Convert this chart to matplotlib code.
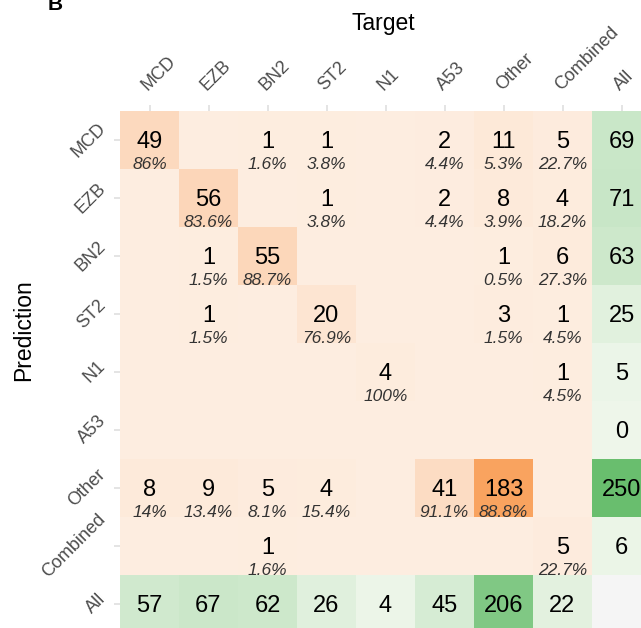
import numpy as np
import matplotlib
matplotlib.use("Agg")
import matplotlib.pyplot as plt
from matplotlib.colors import LinearSegmentedColormap
from matplotlib.patches import Rectangle
from matplotlib.transforms import ScaledTranslation

plt.rcParams['font.family'] = ['Liberation Sans', 'DejaVu Sans']

# ---- data ----
classes = ["MCD", "EZB", "BN2", "ST2", "N1", "A53", "Other", "Combined"]
margin_label = "All"
row_mcd = [49, 0, 1, 1, 0, 2, 11, 5]
row_ezb = [0, 56, 0, 1, 0, 2, 8, 4]
row_bn2 = [0, 1, 55, 0, 0, 0, 1, 6]
row_st2 = [0, 1, 0, 20, 0, 0, 3, 1]
row_n1 = [0, 0, 0, 0, 4, 0, 0, 1]
row_a53 = [0, 0, 0, 0, 0, 0, 0, 0]
row_other = [8, 9, 5, 4, 0, 41, 183, 0]
row_combined = [0, 0, 1, 0, 0, 0, 0, 5]
x_title = "Target"
y_title = "Prediction"
panel_tag = "B"

M = np.array([row_mcd, row_ezb, row_bn2, row_st2, row_n1, row_a53,
              row_other, row_combined])
n = len(classes)
row_tot = M.sum(axis=1)
col_tot = M.sum(axis=0)

# ---- figure ----
W, H = 641, 628
fig = plt.figure(figsize=(W / 100, H / 100), dpi=100)
fig.patch.set_facecolor('white')


def fx(px):
    return px / W


def fy(py):
    return 1 - py / H


ax = fig.add_axes([fx(120), fy(633), 531 / W, 522 / H])

orange = LinearSegmentedColormap.from_list('or', ['#FDEDE0', '#F9A35F'])
green = LinearSegmentedColormap.from_list('gr', ['#EEF6EA', '#69BE6E'])

edges = np.arange(n + 2) - 0.5
main = np.ma.masked_all((n + 1, n + 1))
main[:n, :n] = M
marg = np.ma.masked_all((n + 1, n + 1))
marg[:n, n] = row_tot
marg[n, :n] = col_tot

ax.pcolormesh(edges, edges, main, cmap=orange, vmin=0, vmax=M.max(),
              shading='flat', antialiased=False)
ax.pcolormesh(edges, edges, marg, cmap=green, vmin=0,
              vmax=max(row_tot.max(), col_tot.max()),
              shading='flat', antialiased=False)
ax.add_patch(Rectangle((n - 0.5, n - 0.5), 1, 1, facecolor='#F5F5F5',
                       edgecolor='none'))

ax.set_xlim(-0.5, n + 0.5)
ax.set_ylim(n + 0.5, -0.5)

# cell texts
for i in range(n):
    for j in range(n):
        v = M[i, j]
        if v > 0:
            ax.text(j, i + 0.146, str(v), ha='center', va='baseline',
                    fontsize=17, color='black')
            pct = round(100 * v / col_tot[j], 1)
            ax.text(j, i + 0.5, f"{pct:g}%", ha='center', va='baseline',
                    fontsize=12.5, style='italic', color='#333333')
for i in range(n):
    ax.text(n, i + 0.146, str(row_tot[i]), ha='center', va='baseline',
            fontsize=17, color='black')
for j in range(n):
    ax.text(j, n + 0.146, str(col_tot[j]), ha='center', va='baseline',
            fontsize=17, color='black')

# ticks
labels = classes + [margin_label]
ax.set_xticks(range(n + 1))
ax.set_yticks(range(n + 1))
ax.xaxis.set_ticks_position('top')
ax.xaxis.set_label_position('top')
ax.set_xticklabels(labels)
ax.set_yticklabels(labels)
ax.tick_params(axis='both', length=4.3, width=1.1, color='#DCDCDC',
               labelsize=13, labelcolor='#4D4D4D')
ax.tick_params(axis='x', pad=7.9)
ax.tick_params(axis='y', pad=3.6)

off = ScaledTranslation(-11 / 100, 0, fig.dpi_scale_trans)
for lab in ax.get_xticklabels():
    lab.set_rotation(45)
    lab.set_ha('left')
    lab.set_va('bottom')
    lab.set_rotation_mode('default')
    lab.set_transform(lab.get_transform() + off)
for lab in ax.get_yticklabels():
    lab.set_rotation(45)
    lab.set_ha('right')
    lab.set_va('center')
    lab.set_rotation_mode('default')

for s in ax.spines.values():
    s.set_visible(False)

fig.text(fx(383), fy(30), x_title, ha='center', va='baseline',
         fontsize=16.5, color='black')
fig.text(fx(24), fy(330), y_title, ha='center', va='center', rotation=90,
         fontsize=16.5, color='black')
fig.text(fx(48), fy(10), panel_tag, ha='left', va='baseline',
         fontsize=15, fontweight='bold', color='black')

fig.savefig('out.png', dpi=100, facecolor='white')
